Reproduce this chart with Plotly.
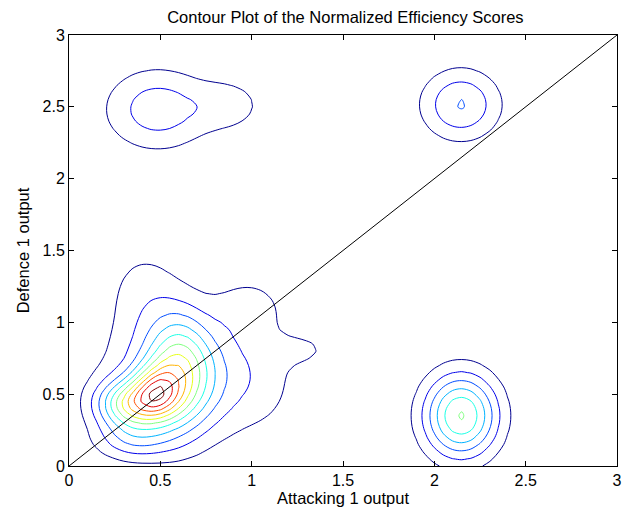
import numpy as np
import plotly.graph_objects as go

# Density clusters (centre, spread, height in contour-level units)
comp_x  = [0.345, 0.601, 0.660, 1.100, 0.357, 0.405, 1.293, 0.990, 0.478, 0.485, 0.883, 2.146, 2.145]
comp_y  = [0.427, 0.660, 0.623, 0.587, 0.175, 1.223, 0.813, 1.110, 0.524, 2.483, 2.512, 0.350, 2.515]
comp_sx = [0.132, 0.120, 0.300, 0.100, 0.151, 0.148, 0.120, 0.130, 0.086, 0.201, 0.132, 0.142, 0.150]
comp_sy = [0.120, 0.277, 0.293, 0.248, 0.100, 0.241, 0.088, 0.140, 0.122, 0.198, 0.124, 0.205, 0.171]
comp_w  = [5.789, 4.317, 3.249, 0.378, 2.118, 1.200, 0.919, 1.250, 4.027, 2.620, 1.389, 6.100, 3.070]

contour_levels = [1, 11, 1]          # start, end, step
diag_x = [0, 3]
diag_y = [0, 3]
tick_vals = [0, 0.5, 1, 1.5, 2, 2.5, 3]

grid_x = np.round(np.arange(0, 3.0001, 0.05), 4)
grid_y = np.round(np.arange(0, 3.0001, 0.05), 4)
GX, GY = np.meshgrid(grid_x, grid_y)
Z = np.zeros_like(GX)
for cx, cy, sx, sy, w in zip(comp_x, comp_y, comp_sx, comp_sy, comp_w):
    Z += w * np.exp(-((GX - cx) ** 2 / (2 * sx ** 2) + (GY - cy) ** 2 / (2 * sy ** 2)))

jet = [[0, 'rgb(0,0,143)'], [0.125, 'rgb(0,0,255)'], [0.375, 'rgb(0,255,255)'],
       [0.625, 'rgb(255,255,0)'], [0.875, 'rgb(255,0,0)'], [1, 'rgb(128,0,0)']]

fig = go.Figure()
fig.add_trace(go.Contour(
    x=grid_x, y=grid_y, z=Z, autocontour=False,
    contours=dict(start=contour_levels[0], end=contour_levels[1], size=contour_levels[2],
                  coloring='lines'),
    colorscale=jet, line=dict(width=1), showscale=False, hoverinfo='skip'))
fig.add_trace(go.Scatter(x=diag_x, y=diag_y, mode='lines',
                         line=dict(color='black', width=1), hoverinfo='skip'))

ax = dict(range=[0, 3], tickvals=tick_vals, ticks='inside', ticklen=5, tickcolor='black',
          showline=True, linecolor='black', linewidth=1, mirror='ticks', showgrid=False,
          zeroline=False, tickfont=dict(size=16), ticklabeloverflow='allow')
fig.update_layout(
    width=624, height=519, margin=dict(l=69, r=2, t=35, b=53),
    plot_bgcolor='white', paper_bgcolor='white', showlegend=False,
    font=dict(family='Liberation Sans, Arial, sans-serif', size=16, color='black'),
    title=dict(text='Contour Plot of the Normalized Efficiency Scores', x=0.5535, xanchor='center',
               y=1 - 17 / 519, yanchor='middle', font=dict(size=16.5)),
    xaxis=dict(ax, title=dict(text='Attacking 1 output', font=dict(size=16.5), standoff=4)),
    yaxis=dict(ax, title=dict(text='Defence 1 output', font=dict(size=16.5), standoff=8)))
fig.write_html('out.html')
